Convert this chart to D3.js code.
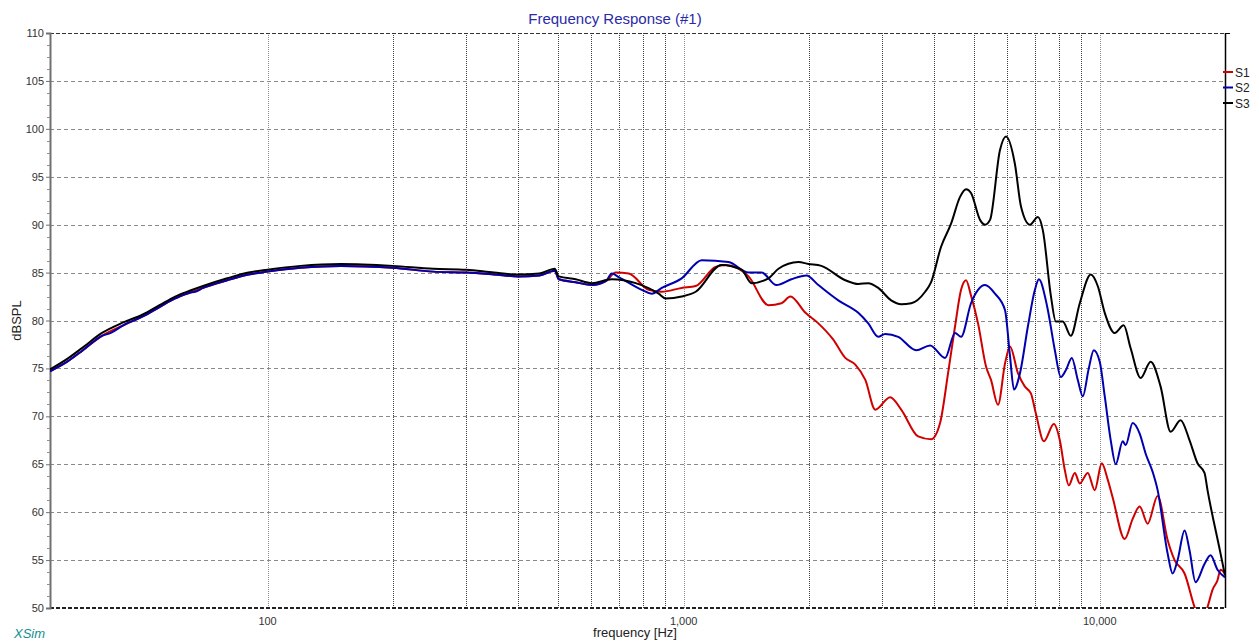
<!DOCTYPE html>
<html>
<head>
<meta charset="utf-8">
<script src="https://cdn.jsdelivr.net/npm/d3@7"></script>
<style>
  body { margin: 0; background: #fff; }
  svg { display: block; font-family: Arial, "Liberation Sans", sans-serif; }
</style>
</head>
<body>
<div id="stage_id"></div>
<script>
// frequency [Hz], dBSPL
var s1Data = [[30,74.7],[33,75.7],[36,76.9],[40,78.4],[45,79.5],[50,80.4],[55,81.4],[60,82.3],[65,82.9],[70,83.4],
  [80,84.2],[90,84.8],[100,85.1],[120,85.5],[150,85.7],[200,85.5],[250,85.1],[300,85.0],[350,84.8],[400,84.6],
  [450,84.7],[490,85.2],[501,84.3],[550,84.0],[602,83.7],[650,84.1],[687,85.0],[738,84.9],[824,83.2],[886,83.0],
  [989,83.4],[1069,83.6],[1193,85.6],[1261,85.8],[1432,84.6],[1599,81.6],[1718,81.8],[1805,82.5],[1962,80.8],
  [2107,79.7],[2289,78.0],[2446,76.1],[2585,75.4],[2733,73.8],[2887,70.7],[3136,72.0],[3333,70.7],[3661,67.9],
  [3933,67.6],[4133,69.3],[4320,74.5],[4490,79.4],[4642,83.2],[4772,84.2],[4905,82.6],[5099,79.7],[5330,75.2],
  [5479,73.8],[5695,71.2],[5919,75.5],[6085,77.3],[6360,74.5],[6609,73.1],[6832,72.4],[7023,70.3],[7340,67.4],
  [7757,69.2],[8018,67.5],[8242,64.4],[8425,62.8],[8710,64.1],[8954,63.0],[9358,64.1],[9727,62.3],[10111,65.1],
  [10452,63.4],[10745,61.5],[11482,57.2],[11998,59.3],[12472,60.6],[13036,58.8],[13776,61.7],[14558,57.1],
  [15132,55.0],[15991,53.6],[16900,50.1],[17500,48.5],[18155,50.1],[18664,51.9],[19187,52.9],[19509,54.0],[20000,53.6]];

var s2Data = [[30,74.7],[33,75.7],[36,76.9],[40,78.4],[42,78.7],[45,79.5],[50,80.4],[55,81.4],[60,82.3],[65,82.9],
  [67,83.0],[70,83.4],[80,84.2],[90,84.8],[100,85.1],[120,85.5],[150,85.7],[200,85.5],[250,85.1],[300,85.0],
  [350,84.8],[400,84.6],[450,84.7],[490,85.2],[501,84.3],[550,84.0],[602,83.7],[650,84.1],[672,84.9],[700,84.5],
  [793,83.2],[838,82.8],[886,83.4],[989,84.4],[1105,86.3],[1282,86.1],[1432,85.0],[1539,85.0],[1671,83.7],
  [1815,84.3],[1972,84.7],[2107,83.7],[2353,82.1],[2628,80.8],[2778,79.7],[2935,78.3],[3050,78.6],[3278,78.3],
  [3622,76.9],[3912,77.4],[4249,76.1],[4490,78.7],[4642,78.3],[4905,81.8],[5099,83.2],[5300,83.7],[5601,82.8],
  [5919,81.1],[6085,76.3],[6221,72.8],[6431,74.5],[6720,79.4],[6985,83.2],[7141,84.3],[7421,82.1],[7504,81.1],
  [7800,76.9],[8062,74.1],[8288,74.8],[8566,76.1],[8856,73.8],[9104,72.1],[9410,75.0],[9674,76.9],[10000,75.7],
  [10280,72.1],[10627,67.5],[10925,65.0],[11355,67.4],[11545,67.0],[11998,69.3],[12472,68.2],[12893,66.1],
  [13402,64.2],[13776,62.3],[14558,55.7],[14966,53.6],[15385,55.0],[15991,58.1],[16439,56.0],[16993,52.7],
  [17856,54.6],[18460,55.5],[19187,54.0],[20000,53.2]];

var s3Data = [[30,74.9],[33,76.0],[36,77.2],[40,78.7],[45,79.8],[50,80.6],[55,81.6],[60,82.5],[65,83.1],[70,83.6],
  [80,84.4],[90,85.0],[100,85.3],[120,85.7],[150,85.9],[200,85.7],[250,85.4],[300,85.3],[350,85.0],[400,84.8],
  [450,84.9],[490,85.4],[501,84.6],[550,84.3],[602,83.9],[672,84.3],[767,83.9],[871,82.8],[905,82.3],[989,82.5],
  [1069,83.0],[1233,85.8],[1378,85.3],[1456,83.9],[1599,84.4],[1690,85.4],[1887,86.1],[1994,85.9],[2142,85.7],
  [2446,84.2],[2628,83.8],[2778,83.9],[2935,83.4],[3153,82.1],[3333,81.7],[3523,81.8],[3805,83.0],[3933,84.0],
  [4156,87.7],[4392,90.1],[4616,92.9],[4772,93.7],[4905,93.3],[5156,90.5],[5300,90.0],[5449,90.5],[5758,97.8],
  [5952,99.2],[6255,96.3],[6467,91.9],[6795,90.0],[7101,90.8],[7300,89.4],[7629,82.6],[7843,79.9],[8151,79.9],
  [8519,78.4],[8954,81.8],[9515,84.8],[9890,83.6],[10280,80.8],[10864,78.7],[11418,79.5],[11866,77.1],
  [12541,74.0],[13254,75.7],[14006,73.1],[14801,68.4],[15641,69.6],[16439,67.5],[17179,65.1],[17856,64.1],
  [18155,62.3],[19509,55.7],[20000,53.4]];

var seriesNames = ["S1", "S2", "S3"];
var seriesColors = ["#d00000", "#0000b0", "#000000"];

var yTicks = [50, 55, 60, 65, 70, 75, 80, 85, 90, 95, 100, 105, 110];
var xGrid = [100, 200, 300, 400, 500, 600, 700, 800, 900, 1000,
             2000, 3000, 4000, 5000, 6000, 7000, 8000, 9000, 10000];
var xLabels = [100, 1000, 10000];

var W = 1259, H = 641;
var margin = {top: 33, right: 34, bottom: 33, left: 50};
var width = W - margin.left - margin.right;   // 1175
var height = H - margin.top - margin.bottom;  // 575

var svg = d3.select("#stage_id")
  .append("svg")
  .attr("width", W)
  .attr("height", H);

var g = svg.append("g")
  .attr("transform", "translate(" + margin.left + "," + margin.top + ")");

var xScale = d3.scaleLog().domain([30, 20000]).range([0, width]);
var yScale = d3.scaleLinear().domain([50, 110]).range([height, 0]);

// ---- grid ----
g.selectAll(".vgrid")
  .data(xGrid)
  .enter()
  .append("line")
  .attr("x1", function(d){ return Math.round(xScale(d)) + 0.5; })
  .attr("x2", function(d){ return Math.round(xScale(d)) + 0.5; })
  .attr("y1", 0)
  .attr("y2", height)
  .attr("stroke", function(d){ return xLabels.includes(d) ? "#909090" : "#404040"; })
  .attr("stroke-width", 1)
  .attr("stroke-dasharray", "1,1");

g.selectAll(".hgrid")
  .data(yTicks.filter(function(d){ return d > 50 && d < 110; }))
  .enter()
  .append("line")
  .attr("x1", 0)
  .attr("x2", width)
  .attr("y1", function(d){ return Math.round(yScale(d)) + 0.5; })
  .attr("y2", function(d){ return Math.round(yScale(d)) + 0.5; })
  .attr("stroke", "#8a8a8a")
  .attr("stroke-dasharray", "4,3");

// top and bottom frame lines are dashed too
g.append("line").attr("x1", 0).attr("x2", width).attr("y1", 0.5).attr("y2", 0.5)
  .attr("stroke", "#333").attr("stroke-dasharray", "4,2");
g.append("line").attr("x1", 0).attr("x2", width).attr("y1", height).attr("y2", height)
  .attr("stroke", "#222").attr("stroke-width", 2).attr("stroke-dasharray", "4,2");

// ---- y axis ----
var yAxis = d3.axisLeft(yScale)
  .tickValues(yTicks)
  .tickSize(4)
  .tickPadding(2)
  .tickFormat(d3.format("d"));

var gY = g.append("g").call(yAxis);
gY.select(".domain").attr("stroke", "#707070").attr("stroke-width", 2);
gY.selectAll(".tick line").attr("stroke", "#707070");
gY.selectAll(".tick text").attr("fill", "#333").style("font-size", "11px");

// minor ticks (quarter steps)
var minor = [];
yTicks.forEach(function(t){ if (t < 110) [1.25, 2.5, 3.75].forEach(function(m){ minor.push(t + m); }); });
g.selectAll(".minor")
  .data(minor)
  .enter()
  .append("line")
  .attr("x1", -3).attr("x2", 0)
  .attr("y1", function(d){ return Math.round(yScale(d)) + 0.5; })
  .attr("y2", function(d){ return Math.round(yScale(d)) + 0.5; })
  .attr("stroke", "#909090");

// ---- x axis labels ----
g.selectAll(".xlab")
  .data(xLabels)
  .enter()
  .append("text")
  .attr("x", function(d){ return xScale(d); })
  .attr("y", height + 17)
  .attr("text-anchor", "middle")
  .attr("fill", "#333")
  .style("font-size", "11px")
  .text(function(d){ return d3.format(",")(d); });

// right frame
g.append("line").attr("x1", width + 0.5).attr("x2", width + 0.5).attr("y1", 0).attr("y2", height)
  .attr("stroke", "#000").attr("stroke-width", 1.5);
g.append("line").attr("x1", width).attr("x2", width + 5).attr("y1", 0.5).attr("y2", 0.5)
  .attr("stroke", "#000");

// ---- curves ----
g.append("clipPath")
  .attr("id", "clip")
  .append("rect")
  .attr("width", width)
  .attr("height", height);

var line = d3.line()
  .curve(d3.curveMonotoneX)
  .x(function(d){ return xScale(d[0]); })
  .y(function(d){ return yScale(d[1]); });

g.selectAll(".curve")
  .data([s1Data, s2Data, s3Data])
  .enter()
  .append("path")
  .attr("clip-path", "url(#clip)")
  .attr("d", line)
  .attr("fill", "none")
  .attr("stroke", function(d, i){ return seriesColors[i]; })
  .attr("stroke-width", 2)
  .attr("stroke-linejoin", "round");

// ---- legend ----
var leg = svg.selectAll(".leg")
  .data(seriesNames)
  .enter()
  .append("g")
  .attr("transform", function(d, i){ return "translate(" + (margin.left + width) + "," + (72 + i * 15.5) + ")"; });
leg.append("line").attr("x1", -2).attr("x2", 8).attr("y1", 0).attr("y2", 0)
  .attr("stroke", function(d, i){ return seriesColors[i]; }).attr("stroke-width", 2);
leg.append("text").attr("x", 10).attr("y", 4.5)
  .style("font-size", "12px").attr("fill", "#222")
  .text(function(d){ return d; });

// ---- titles ----
svg.append("text")
  .attr("x", 615).attr("y", 24)
  .attr("text-anchor", "middle")
  .attr("fill", "#2a2aa8")
  .style("font-size", "15px")
  .text("Frequency Response (#1)");

svg.append("text")
  .attr("x", 635).attr("y", 637)
  .attr("text-anchor", "middle")
  .attr("fill", "#222")
  .style("font-size", "13px")
  .text("frequency [Hz]");

svg.append("text")
  .attr("transform", "translate(21," + (margin.top + height / 2) + ") rotate(-90)")
  .attr("text-anchor", "middle")
  .attr("fill", "#222")
  .style("font-size", "13px")
  .text("dBSPL");

svg.append("text")
  .attr("x", 14).attr("y", 638)
  .attr("fill", "#12908e")
  .style("font-size", "13px")
  .style("font-style", "italic")
  .text("XSim");
</script>
</body>
</html>
